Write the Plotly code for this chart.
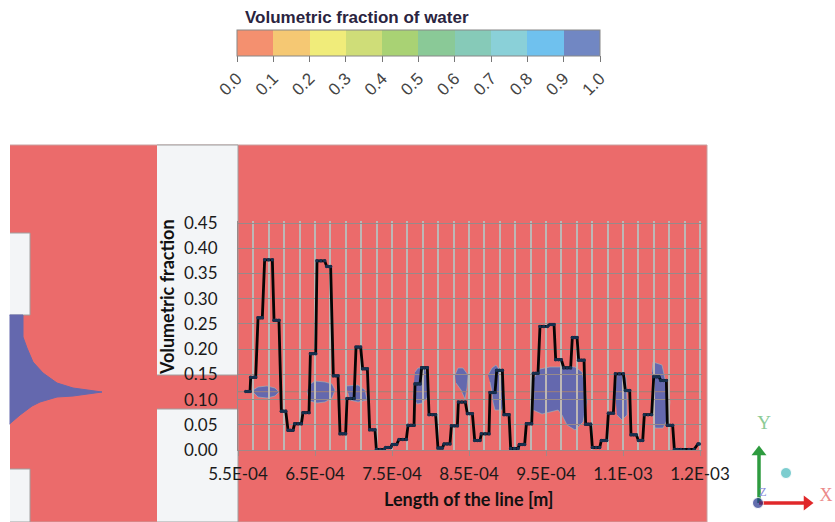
import plotly.graph_objects as go

# ---- chart data -------------------------------------------------------
length_um = [560,563,565.6, 566.5,570,573, 576,579,581.6, 584.6,589.6,594.6, 596.8,600,603.2, 606.3,609,612,
             615,618,621.4, 623.6,628,632.3, 634.4,638,642.2, 644,647.5,650.9, 652.6,657.6,662.6, 665.2,667.7,670.3,
             673.8,677,679.9, 682.5,686,689.8, 691.6,696,700.7, 703.3,706,709.3, 711.9,715,718, 721,724.5,727.9,
             729.7,734.6,739.6, 741.8,745,748.3, 750.4,753,756.1, 759.1,764,768.6, 770.8,774.7,778.6, 779.9,783,786.4,
             788.5,792,795.9, 798.1,802.4,806.7, 809.7,812.5,815.4, 817.6,821.5,825.3, 827.1,831,834.9, 836.2,840.7,845.2,
             847.9,851,854.4, 857.4,861,864.3, 866,871,876, 877.3,880.5,883.8, 886,889.7,893.3, 895.5,898.8,902,
             904.1,909,913.7, 915.4,919,922.3, 924.5,928,931.4, 933.6,936.6,939.6, 942.2,947,951.8, 955.2,957.8,960.4,
             962.6,966.2,969.9, 973,977.5,982, 984.2,987.2,990.3, 992.4,996,999.4, 1001.5,1004.7,1008, 1010.2,1015,1019.7,
             1021.9,1025.4,1028.8, 1031,1034.2,1037.5, 1040.1,1045.3,1050.5, 1053,1055.8,1058.7, 1060.4,1063.8,1067.3,
             1070,1072.8,1075.6, 1077.7,1082.5,1087.2, 1089.9,1093.4,1096.8, 1099,1102.6,1106.3, 1107.6,1111,1114.5,
             1116.7,1120.8,1125, 1129.2,1135.7,1142.2, 1147.4,1149.2]
fraction = [.116,.116,.116, .144,.144,.144, .262,.262,.262, .377,.377,.377, .257,.257,.257, .077,.077,.077,
            .039,.039,.039, .052,.052,.052, .074,.074,.074, .191,.191,.191, .375,.375,.375, .364,.364,.364,
            .147,.147,.147, .032,.032,.032, .102,.102,.102, .204,.204,.204, .161,.161,.161, .040,.040,.040,
            .001,.001,.001, .005,.005,.005, .011,.011,.011, .021,.021,.021, .049,.049,.049, .131,.131,.131,
            .163,.163,.163, .070,.070,.070, .004,.004,.004, .012,.012,.012, .048,.048,.048, .095,.095,.095,
            .072,.072,.072, .019,.019,.019, .032,.032,.032, .114,.114,.114, .158,.158,.158, .070,.070,.070,
            .003,.003,.003, .011,.011,.011, .052,.052,.052, .152,.152,.152, .245,.245,.245, .249,.249,.249,
            .179,.179,.179, .163,.163,.163, .223,.223,.223, .178,.178,.178, .051,.051,.051, .005,.005,.005,
            .019,.019,.019, .073,.073,.073, .151,.151,.151, .118,.118,.118, .030,.030,.030,
            .019,.019,.019, .070,.070,.070, .145,.145,.145, .138,.138,.138, .049,.049,.049,
            .001,.001,.001, .000,.001,.001, .012,.012]
x_tick_vals_um = [550,650,750,850,950,1050,1150]
x_tick_labels = ["5.5E-04","6.5E-04","7.5E-04","8.5E-04","9.5E-04","1.1E-03","1.2E-03"]
y_tick_vals = [0,.05,.10,.15,.20,.25,.30,.35,.40,.45]
y_tick_labels = ["0.00","0.05","0.10","0.15","0.20","0.25","0.30","0.35","0.40","0.45"]
legend_colors = ["#F4906F","#F5C873","#F0EC7A","#CFDD78","#A9D274","#8AC997","#86CAB8","#8AD0D8","#6FC1EE","#7187C3"]
legend_ticks = [0,.1,.2,.3,.4,.5,.6,.7,.8,.9,1]
legend_labels = ["0.0","0.1","0.2","0.3","0.4","0.5","0.6","0.7","0.8","0.9","1.0"]

# ---- simulation picture behind the chart (picture units) ---------------
jet = [(9.5,315),(23,315),(23,337),(27,348),(33,362),(43,373),(57,383),(73,388),(102,392),(73,396),(57,397),(40,402),(32,406),(20,415),(9.5,424)]
blobs = [
 [(253,390),(258,387),(267,386),(275,388),(279,392),(275,396),(267,398),(258,397),(254,393)],
 [(309,385),(315,381),(325,382),(332,384),(335,390),(332,398),(325,402),(317,403),(310,401),(307,392)],
 [(346,386),(358,385),(365,390),(367,400),(358,402),(350,400),(348,393)],
 [(415,372),(418,368),(425,368),(428,378),(429,388),(427,398),(422,403),(417,404),(413,397),(414,383)],
 [(455,375),(458,368),(463,368),(468,375),(467,388),(465,399),(461,390),(456,383)],
 [(488,375),(492,368),(496,365),(501,372),(503,385),(505,398),(502,410),(495,410),(493,402),(492,392),(490,382)],
 [(534,378),(540,369),(550,367),(575,367),(582,372),(585,385),(587,402),(583,422),(575,430),(567,425),(562,415),(558,410),(550,412),(542,414),(533,410),(534,392)],
 [(615,392),(617,374),(623,372),(626,378),(627,402),(627,415),(622,420),(617,415)],
 [(652,372),(653,362),(662,365),(666,382),(670,402),(668,418),(663,428),(655,428),(653,415)],
]

fig = go.Figure()

def poly(pts, color, line=None, w=1):
    fig.add_trace(go.Scatter(x=[p[0] for p in pts], y=[p[1] for p in pts], mode="lines", fill="toself",
                             fillcolor=color, line=dict(color=line or color, width=w),
                             hoverinfo="skip", showlegend=False, xaxis="x", yaxis="y"))

RED, BLUE, BLOCK, EDGE = "#EB6B6B", "#6468AE", "#F3F5F7", "#A0A0A0"
poly([(10,145),(707,145),(707,522),(10,522)], RED, "#C9A0A0")
poly([(157,145),(238,145),(238,375),(157,375)], BLOCK, EDGE)
poly([(157,409),(238,409),(238,522),(157,522)], BLOCK, EDGE)
poly([(10,233),(30,233),(30,315),(10,315)], BLOCK, EDGE)
poly([(10,469),(30,469),(30,522),(10,522)], BLOCK, EDGE)
poly(jet, BLUE)
for b in blobs:
    poly(b, BLUE, "#9CB8C0", 0.6)
# centre line of the domain
fig.add_trace(go.Scatter(x=[238,702], y=[391.7,391.7], mode="lines", line=dict(color="#A08078", width=1),
                         hoverinfo="skip", showlegend=False, xaxis="x", yaxis="y"))

# triad
fig.add_trace(go.Scatter(x=[759,759], y=[503,452], mode="lines", line=dict(color="#2E9B3F", width=3.5),
                         showlegend=False, hoverinfo="skip", xaxis="x", yaxis="y"))
fig.add_trace(go.Scatter(x=[759,804], y=[503,503], mode="lines", line=dict(color="#E0282A", width=3.5),
                         showlegend=False, hoverinfo="skip", xaxis="x", yaxis="y"))
fig.add_trace(go.Scatter(x=[759], y=[452], mode="markers", marker=dict(symbol="triangle-up", size=13, color="#2E9B3F"),
                         showlegend=False, hoverinfo="skip", xaxis="x", yaxis="y"))
fig.add_trace(go.Scatter(x=[807], y=[503], mode="markers", marker=dict(symbol="triangle-right", size=13, color="#E0282A"),
                         showlegend=False, hoverinfo="skip", xaxis="x", yaxis="y"))
fig.add_trace(go.Scatter(x=[758,786], y=[503,473], mode="markers", marker=dict(size=[11,11], color=["#22318C","#45B8BC"]),
                         showlegend=False, hoverinfo="skip", xaxis="x", yaxis="y"))
fig.add_trace(go.Scatter(x=[764,826,763], y=[424,496,493], mode="text", text=["Y","X","Z"],
                         textfont=dict(family="Liberation Serif", size=[19,18,12], color=["#8CCB96","#EC8A8A","#8A8AD8"]),
                         showlegend=False, hoverinfo="skip", xaxis="x", yaxis="y"))

# colour legend, carried by an off-range helper point
steps = []
for i, c in enumerate(legend_colors):
    steps += [[i/10, c], [(i+1)/10, c]]
fig.add_trace(go.Scatter(x=[-100], y=[-100], mode="markers", showlegend=False, hoverinfo="skip", xaxis="x", yaxis="y",
    marker=dict(color=[0.5], cmin=0, cmax=1, colorscale=steps, showscale=True,
        colorbar=dict(orientation="h", lenmode="pixels", len=363, thicknessmode="pixels", thickness=26,
                      x=237/835, xanchor="left", xpad=0, ypad=0, y=1-30/522, yanchor="top",
                      outlinecolor="#888888", outlinewidth=1, bgcolor="rgba(0,0,0,0)",
                      tickmode="array", tickvals=legend_ticks, ticktext=legend_labels,
                      ticks="outside", ticklen=6, tickcolor="#777777", tickangle=-45,
                      tickfont=dict(family="Liberation Sans", size=17, color="#444444")))))

# the chart itself
fig.add_trace(go.Scatter(x=[v*1e-6 for v in length_um], y=fraction, mode="lines+markers",
                         line=dict(color="#050505", width=2.8), marker=dict(size=3.5, color="#16304F"),
                         showlegend=False, xaxis="x2", yaxis="y2"))

fig.update_layout(
    width=835, height=522, autosize=False, margin=dict(l=0, r=0, t=0, b=0, autoexpand=False),
    paper_bgcolor="white", plot_bgcolor="rgba(0,0,0,0)",
    xaxis=dict(domain=[0,1], range=[0,835], visible=False, fixedrange=True),
    yaxis=dict(domain=[0,1], range=[522,0], visible=False, fixedrange=True),
    xaxis2=dict(domain=[238/835, 702/835], range=[550e-6,1152.6e-6], anchor="y2",
                tickmode="array", tickvals=[v*1e-6 for v in x_tick_vals_um], ticktext=x_tick_labels,
                ticks="outside", ticklen=5, tickcolor="#A08888", showgrid=True, gridcolor="#BDB7B5", gridwidth=1.5,
                minor=dict(tick0=550e-6, dtick=20e-6, showgrid=True, gridcolor="#BDB7B5", gridwidth=1.5, ticks=""),
                showline=True, linecolor="#A08888", linewidth=1, zeroline=False, automargin=False,
                tickfont=dict(family="Lato", size=17, color="#1a1a1a"), ticklabelstandoff=4),
    yaxis2=dict(domain=[1-450/522, 1-221/522], range=[0,.45396], anchor="x2",
                tickmode="array", tickvals=y_tick_vals, ticktext=y_tick_labels,
                ticks="", showgrid=True, gridcolor="#978A8A", gridwidth=1,
                showline=True, linecolor="#978A8A", linewidth=1, zeroline=False, automargin=False,
                tickfont=dict(family="Lato", size=17, color="#1a1a1a"), ticklabelstandoff=16),
    annotations=[dict(text="<b>Volumetric fraction of water</b>", xref="paper", yref="paper",
                      x=243/835, y=1-18/522, xanchor="left", yanchor="middle", showarrow=False,
                      font=dict(family="Liberation Sans", size=17, color="#2a2440")),
                 dict(text="<b>Length of the line [m]</b>", xref="paper", yref="paper",
                      x=468/835, y=1-499/522, xanchor="center", yanchor="middle", showarrow=False,
                      font=dict(family="Lato", size=18, color="#111111")),
                 dict(text="<b>Volumetric fraction</b>", xref="paper", yref="paper", textangle=-90,
                      x=167/835, y=1-297/522, xanchor="center", yanchor="middle", showarrow=False,
                      font=dict(family="Lato", size=18, color="#111111"))],
)

fig.write_html("out.html", config={"displayModeBar": False},
               post_script="document.body.style.margin='0';window.dispatchEvent(new Event('resize'));")
